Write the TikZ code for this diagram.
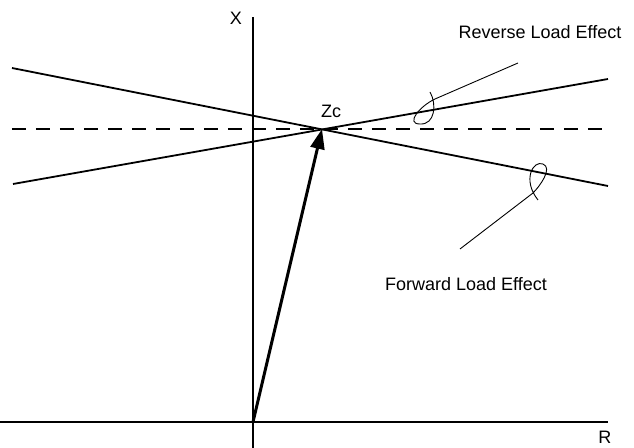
\documentclass[tikz,border=0pt]{standalone}
\usepackage{fontspec}
\setmainfont{Liberation Sans}
\usetikzlibrary{arrows.meta,positioning}

\begin{document}
\begin{tikzpicture}[
    x=0.5pt, y=-0.5pt,
    font=\fontsize{9}{11}\selectfont,
    axis/.style={line width=0.7pt},
    load/.style={line width=0.9pt},
    leader/.style={line width=0.45pt},
    label/.style={inner sep=0pt, anchor=center}
]
\useasboundingbox (0,0) rectangle (634,448);

% axes
\coordinate (O) at (253,422);
\coordinate (xtop) at (253,17);
\coordinate (xbot) at (253,448);
\coordinate (rleft) at (0,422);
\coordinate (rright) at (608,422);
\draw[axis] (xbot) -- (xtop);
\draw[axis] (rleft) -- (rright);
\node[label] (xlab) at (236,18) {X};
\node[label] (rlab) at (605,437) {R};

% load lines
\coordinate (Zc) at (322,129);
\coordinate (revA) at (13,184);
\coordinate (revB) at (608,79);
\coordinate (fwdA) at (12,68);
\coordinate (fwdB) at (608,186);
\coordinate (dashA) at (12,129);
\coordinate (dashB) at (604,129);
\draw[load] (revA) -- (revB);
\draw[load] (fwdA) -- (fwdB);
\draw[load, dash pattern=on 7pt off 5pt] (dashA) -- (dashB);
\node[label] (zclab) at (331,111) {Zc};

% resultant
\draw[line width=1.5pt, -{Triangle[length=10pt, width=7pt]}] (O) -- (Zc);

% leaders
\coordinate (revL) at (518,63);
\coordinate (fwdL) at (460,249);
\draw[leader] (revL) -- (435,99) .. controls (420,106) and (405,124) .. (420,124)
    .. controls (435,125) and (437,104) .. (430,92);
\draw[leader] (fwdL) -- (533,193) .. controls (540,186) and (553,168) .. (543,164)
    .. controls (533,160) and (522,180) .. (538,200);
\node[label] (revlab) at (540,32) {Reverse Load Effect};
\node[label] (fwdlab) at (466,284) {Forward Load Effect};
\end{tikzpicture}
\end{document}
